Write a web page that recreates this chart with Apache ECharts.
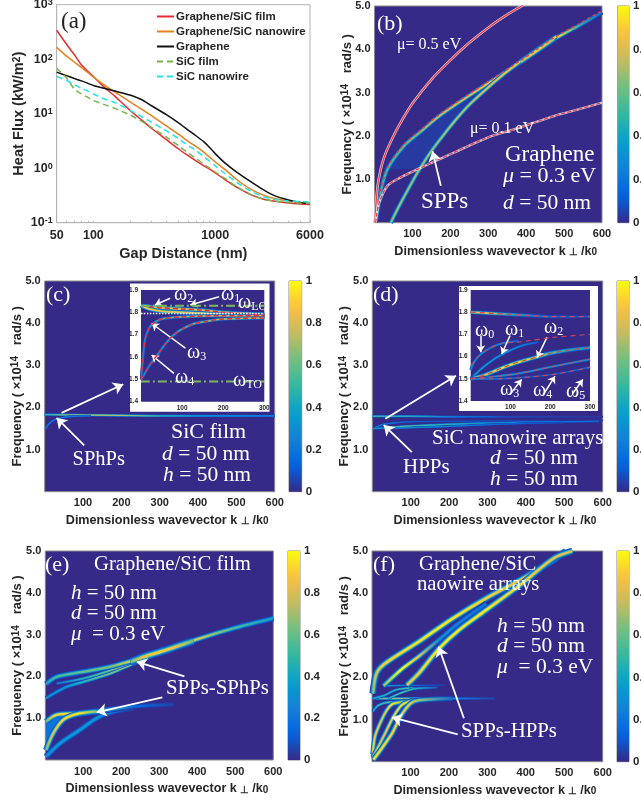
<!DOCTYPE html>
<html><head><meta charset="utf-8">
<style>html,body{margin:0;padding:0;background:#fff}#c{width:641px;height:806px;filter:blur(.4px)}</style>
<script src="https://cdn.jsdelivr.net/npm/echarts@6/dist/echarts.min.js"></script>
</head><body><div id="c"></div>
<script>
// ---------- panel (a) data ----------
const gapNm=[50,60,70,80,90,100,120,150,200,250,300,400,500,600,700,800,900,1000,1200,1500,2000,2500,3000,4000,5000,6000];
const fluxGrapheneSicFilm=[340,190,120,78,60,48,32,21,11.5,7.6,5.4,3.3,2.25,1.7,1.35,1.12,.96,.82,.62,.45,.32,.27,.25,.23,.22,.215];
const fluxGrapheneSicWire=[165,115,88,70,57,47,35,25,16.5,12,9.2,5.9,4.2,3.1,2.5,2,1.6,1.3,.95,.62,.4,.32,.28,.25,.235,.225];
const fluxGraphene=[58,50,44,40,36,33,29.5,26,22,18,14,9.5,6.8,5,3.9,3.1,2.4,1.85,1.25,.85,.55,.4,.32,.26,.235,.225];
const fluxSicFilm=[68,46,28,23,20,17.5,15,12.5,9.5,7.2,5.6,3.7,2.6,1.9,1.5,1.2,1,.85,.65,.46,.32,.27,.25,.235,.23,.225];
const fluxSicWire=[48,41,34,29,26,23,19,16,11.5,8.8,7,4.8,3.5,2.6,2.1,1.65,1.35,1.1,.8,.55,.37,.3,.27,.25,.245,.24];
const seriesNames=['Graphene/SiC film','Graphene/SiC nanowire','Graphene','SiC film','SiC nanowire'];
const gapLabels=[50,100,1000,6000];
const gapTicks=[50,60,70,80,90,100,200,300,400,500,600,700,800,900,1000,2000,3000,4000,5000,6000];
const fluxTicks=[.1,1,10,100,1000];
// ---------- panel (b) ridges ----------
const bMu05K=[1,3,10,25,50,75,100,150,200,250,300,350,392];
const bMu05F=[0,.35,.95,1.5,2,2.4,2.75,3.3,3.75,4.15,4.5,4.8,5.02];
const bMu01K=[3,6,12,34,70,113,160,210,297,385,473,540,600];
const bMu01F=[0,.2,.45,.85,1.05,1.23,1.42,1.62,1.96,2.2,2.46,2.62,2.77];
const bUpK=[3,8,16,34,78,122,165,210,297,385,430,473,540,600];
const bUpF=[0,.25,.7,1.23,1.77,2.1,2.42,2.7,3.2,3.7,3.97,4.23,4.55,4.85];
const bUpV=[.4,.45,.5,.55,.6,.65,.75,.8,.85,.9,.95,.95,.45,.15];
const bLowK=[43,60,80,100,120,148,180,210,250,297,340,385,430,480];
const bLowF=[0,.3,.63,.95,1.25,1.63,2,2.33,2.72,3.1,3.42,3.72,4,4.3];
const bLowV=[.65,.7,.7,.7,.7,.7,.7,.75,.75,.8,.85,.9,.95,.9];
const bCoreK=[385,410,430,450,473];
const bCoreF=[3.71,3.86,3.98,4.1,4.24];
const bCoreV=[.7,.85,.9,.85,.7];
// ---------- panel (c) ridges ----------
const cTopK=[0,100,200,300,400,500,600];
const cTopF=[1.83,1.82,1.81,1.8,1.8,1.8,1.8];
const cTopV=[.5,.8,.8,.5,.35,.3,.25];
const cLowK=[2,10,26,60,120];
const cLowF=[1.49,1.6,1.71,1.78,1.8];
const cLowV=[.25,.25,.25,.25,.2];
const ciW2K=[0,50,100,150,200,300];
const ciW2F=[1.83,1.82,1.815,1.81,1.8,1.79];
const ciW1K=[0,20,50,100,200,300];
const ciW1F=[1.83,1.815,1.805,1.8,1.79,1.785];
const ciTopV=[.8,.9,.85,.85,.8,.85];
const ciW3K=[1,5,10,20,30,50,100,200,300];
const ciW3F=[1.5,1.6,1.68,1.73,1.75,1.77,1.78,1.785,1.785];
const ciW3V=[.25,.25,.25,.3,.4,.5,.7,.8,.85];
const ciW4K=[1,20,40,60,80,100,130,160,200,300];
const ciW4F=[1.5,1.56,1.61,1.66,1.7,1.725,1.75,1.76,1.77,1.775];
const ciW4V=[.3,.3,.35,.35,.4,.5,.6,.7,.8,.85];
const ciLoF=[1.83,1.83],ciToF=[1.49,1.49],ciDotF=[1.795,1.795],ciSpanK=[0,300];
// ---------- panel (d) ridges ----------
const dTopK=[0,100,200,300,350,600];
const dTopF=[1.79,1.79,1.78,1.78,1.78,1.78];
const dTopV=[.55,.5,.25,.15,.08,.03];
const dAK=[2,30,100,200,350,600];
const dAF=[1.5,1.6,1.66,1.67,1.68,1.69];
const dAV=[.3,.3,.15,.1,.08,.05];
const dBK=[2,50,100,200,300,400,500,590];
const dBF=[1.5,1.53,1.56,1.6,1.63,1.65,1.66,1.67];
const dBV=[.5,.6,.6,.5,.35,.25,.2,.15];
const dCK=[2,100,200,300,400,500];
const dCF=[1.5,1.52,1.55,1.59,1.62,1.64];
const dCV=[.4,.35,.3,.2,.15,.1];
const diTopK=[0,25,50,100,150,200,300];
const diTopF=[1.8,1.798,1.795,1.79,1.785,1.78,1.78];
const diTopV=[.8,.9,.85,.5,.25,.15,.08];
const diW0K=[0,10,25,50,80,120];
const diW0F=[1.54,1.58,1.61,1.64,1.66,1.67];
const diW0V=[.3,.3,.3,.3,.25,.15];
const diW1K=[0,30,60,90,130,170];
const diW1F=[1.5,1.55,1.59,1.62,1.65,1.665];
const diW1V=[.4,.4,.35,.35,.25,.12];
const diW2K=[0,40,80,120,170,200,250,300];
const diW2F=[1.5,1.52,1.55,1.575,1.6,1.615,1.63,1.64];
const diW2V=[.6,.8,.95,.95,.75,.6,.45,.4];
const diW4K=[0,60,124,208,300];
const diW4F=[1.5,1.51,1.525,1.556,1.588];
const diW4V=[.4,.35,.35,.35,.35];
const diW5K=[0,60,124,208,300];
const diW5F=[1.5,1.5,1.505,1.52,1.552];
const diW5V=[.35,.2,.12,.1,.15];
const diDashAK=[0,10,25,50,80,120,200,300];
const diDashAF=[1.56,1.58,1.61,1.64,1.66,1.665,1.685,1.7];
// ---------- panel (e) ridges ----------
const eTopK=[2,30,100,170,249,319,407,495,600];
const eTopF=[1.82,1.99,2.11,2.23,2.43,2.63,2.91,3.15,3.39];
const eTopV=[.3,.55,.6,.65,.9,.95,.8,.55,.35];
const eMidK=[30,100,170,232,275];
const eMidF=[1.83,1.95,2.14,2.35,2.5];
const eMidV=[.2,.5,.65,.85,.9];
const eLoK=[2,56,100,170,232,275];
const eLoF=[1.48,1.75,1.87,2.07,2.31,2.47];
const eLoV=[.3,.35,.5,.65,.8,.9];
const eCoreK=[225,260,300,340,390];
const eCoreF=[2.35,2.47,2.58,2.7,2.85];
const eCoreV=[.6,.85,.9,.85,.6];
const eBandTopK=[2,30,100,135,232,337];
const eBandTopF=[.92,1.08,1.12,1.16,1.28,1.33];
const eBandTopV=[.55,.9,.95,.55,.15,.05];
const eBandMidK=[2,21,47,82,135];
const eBandMidF=[.24,.64,.96,1.1,1.16];
const eBandMidV=[.6,.8,.9,.95,.65];
const eBottomK=[2,39,91,135,170,232];
const eBottomF=[.08,.4,.72,1,1.13,1.24];
const eBottomV=[.3,.35,.35,.35,.2,.08];
// ---------- panel (f) ridges ----------
const fAK=[2,12,34,122,210,297,385,473,504];
const fAF=[1.62,2.1,2.33,2.85,3.4,3.88,4.31,4.79,5];
const fAV=[.4,.75,.9,.95,.95,.9,.85,.85,.8];
const fBK=[30,78,122,175,227,297];
const fBF=[1.8,2.2,2.5,2.9,3.3,3.75];
const fBV=[.65,1,.85,.3,.25,.2];
const fCK=[91,122,175,227,297,385,473,521];
const fCF=[1.82,2.1,2.69,3.13,3.6,4.19,4.83,5];
const fCV=[.8,.9,.95,.95,.95,.9,.85,.8];
const fL1K=[2,8,21,39,56,122,210];
const fL1F=[.18,.6,.91,1.23,1.38,1.46,1.5];
const fL1V=[.95,.9,.85,.85,.95,.4,.1];
const fL2K=[2,34,56,78,105];
const fL2F=[.1,.67,1.07,1.35,1.45];
const fL2V=[.75,.85,.9,.95,.7];
const fL3K=[4,52,74,100,122,210];
const fL3F=[.05,.67,1.07,1.38,1.46,1.5];
const fL3V=[.95,.9,.9,.85,.7,.15];
const fL0K=[2,17,43,90];
const fL0F=[1.19,1.34,1.41,1.42];
const fL0V=[.3,.5,.6,.2];
const fM1K=[2,60,150,220,320];
const fM1F=[1.5,1.5,1.5,1.5,1.5];
const fM1V=[.5,.7,.6,.25,.05];
const fM2K=[2,34,60,87,157];
const fM2F=[1.5,1.58,1.7,1.74,1.76];
const fM2V=[.4,.5,.5,.6,.1];
const fM3K=[43,75,110,170];
const fM3F=[1.5,1.63,1.73,1.76];
const fM3V=[.5,.6,.5,.1];
const fM4K=[30,80,130,190];
const fM4F=[1.8,1.81,1.81,1.82];
const fM4V=[.35,.3,.12,.03];
// ---------- ticks ----------
const wavevectorTicks=[100,200,300,400,500,600];
const freqTicks=[1,2,3,4,5];
const colorbarTicks=[0,.2,.4,.6,.8,1];

const PARULA=[[53,42,135],[3,99,225],[20,129,214],[6,160,205],[51,184,161],[113,191,128],[195,188,96],[253,191,66],[249,251,14]];
function parula(t){t=Math.max(0,Math.min(1,t))*8;const i=Math.min(7,Math.floor(t)),u=t-i,a=PARULA[i],b=PARULA[i+1];
  return 'rgb('+a.map((c,j)=>Math.round(c+(b[j]-c)*u)).join(',')+')';}
const BG=parula(0),SANS='"Liberation Sans"',SERIF='"Liberation Serif"',INK='#262626',AX='#8a8a8a';
const series=[],graphic=[];
const P={a:0,b:1,c:2,d:3,e:4,f:5,ci:6,di:7};
const zip=(k,f)=>k.map((v,i)=>[v,f[i]]);
const LEVELS=[[3.5,.1],[2.8,.22],[2.25,.42],[1.75,.68],[1.2,1]];
function ridge(p,k,f,v,w){
  const lo=k[0],span=k[k.length-1]-lo;
  LEVELS.forEach(([m,l])=>{
    series.push({type:'line',xAxisIndex:p,yAxisIndex:p,data:zip(k,f),showSymbol:false,smooth:.3,silent:true,animation:false,z:p>=6?4:2,
      lineStyle:{width:w*m,cap:'butt',join:'round',color:{type:'linear',x:0,y:0,x2:1,y2:0,colorStops:k.map((x,i)=>({offset:(x-lo)/span,color:parula(l*v[i])}))}}});
  });
}
function stroke(p,k,f,color,w,type,z){
  series.push({type:'line',xAxisIndex:p,yAxisIndex:p,data:zip(k,f),showSymbol:false,smooth:.3,silent:true,animation:false,z:z||(p>=6?5:3),
    lineStyle:{width:w,color,type:type||'solid'}});
}
function band(p,k1,f1,k2,f2,color){
  const pts=zip(k1,f1).concat(zip(k2,f2).reverse());
  series.push({type:'custom',xAxisIndex:p,yAxisIndex:p,data:[pts[0]],silent:true,animation:false,clip:true,z:2,
    renderItem:(ps,api)=>({type:'polygon',shape:{points:pts.map(q=>api.coord(q))},style:{fill:color}})});
}
function arrow(p,from,to){
  series.push({type:'line',xAxisIndex:p,yAxisIndex:p,data:[from],showSymbol:false,silent:true,animation:false,z:p>=6?6:5,
    markLine:{silent:true,animation:false,symbol:['none','arrow'],symbolSize:p>=6?7:10,label:{show:false},
      lineStyle:{color:'#fff',width:p>=6?1.5:1.8,type:'solid'},data:[[{coord:from},{coord:to}]]}});
}
function text(x,cy,t,size,fill){
  graphic.push({type:'text',z:100,silent:true,style:{x,y:cy,text:t,fill:fill||'#fff',fontFamily:SERIF,fontSize:size,verticalAlign:'middle',
    rich:{i:{fontFamily:SERIF,fontSize:size,fontStyle:'italic',fill:fill||'#fff'},n:{fontFamily:SERIF,fontSize:size,fill:fill||'#fff'},
      w:{fontFamily:SERIF,fontSize:20,fill:'#fff'},s:{fontFamily:SERIF,fontSize:12,fill:'#fff',verticalAlign:'bottom'}}}});
}
const om=s=>'{w|ω}{s|'+s+'}';

// panel (a)
const aColors=['#ea2a2e','#e6821a','#111111','#79b44a','#22e6e6'];
[fluxGrapheneSicFilm,fluxGrapheneSicWire,fluxGraphene,fluxSicFilm,fluxSicWire].forEach((v,i)=>{
  series.push({name:seriesNames[i],type:'line',xAxisIndex:0,yAxisIndex:0,data:zip(gapNm,v),showSymbol:false,symbol:'none',smooth:.2,silent:true,animation:false,
    lineStyle:{width:1.5,color:aColors[i],type:i>=3?[6,4]:'solid'},itemStyle:{color:aColors[i]}});
});
// panel (b)
band(P.b,bUpK.slice(3,10),bUpF.slice(3,10),bLowK.slice(4,12),bLowF.slice(4,12),parula(.035));
ridge(P.b,bUpK,bUpF,bUpV,1.3);
ridge(P.b,bLowK,bLowF,bLowV,1.3);
ridge(P.b,bCoreK,bCoreF,bCoreV,1.7);
stroke(P.b,bUpK,bUpF.map(v=>v+.04),'#ee3b46',1.5,[3,3]);
stroke(P.b,bMu05K,bMu05F,'rgba(255,255,255,.8)',2.6);
stroke(P.b,bMu05K,bMu05F,'#ee3b46',1.3);
stroke(P.b,bMu01K,bMu01F,'rgba(255,255,255,.7)',2.4);
stroke(P.b,bMu01K,bMu01F,'#ee3b46',1.3,[4,2]);
arrow(P.b,[175,.85],[153,1.65]);
// panel (c)
ridge(P.c,cTopK,cTopF,cTopV,.7);
ridge(P.c,cLowK,cLowF,cLowV,.6);
arrow(P.c,[44,1.87],[205,2.55]);
arrow(P.c,[103,1.1],[31,1.75]);
ridge(P.ci,ciW2K,ciW2F,ciTopV,1.2);
ridge(P.ci,ciW1K,ciW1F,ciTopV,1.2);
ridge(P.ci,ciW3K,ciW3F,ciW3V,.9);
ridge(P.ci,ciW4K,ciW4F,ciW4V,.9);
stroke(P.ci,ciW2K,ciW2F,'#ee2b3a',1.5,[5,3]);
stroke(P.ci,ciW3K,ciW3F,'#ee2b3a',1.5,[5,3]);
stroke(P.ci,ciW4K,ciW4F,'#ee2b3a',1.5,[5,3]);
stroke(P.ci,ciSpanK,ciLoF,'#7cb85a',2,[9,3,2,3]);
stroke(P.ci,ciSpanK,ciToF,'#7cb85a',2,[9,3,2,3]);
stroke(P.ci,ciSpanK,ciDotF,'#ffffff',1.5,[1.5,1.5]);
arrow(P.ci,[108,1.64],[26,1.75]);
arrow(P.ci,[80,1.527],[26,1.609]);
arrow(P.ci,[71,1.863],[34,1.833]);
arrow(P.ci,[190,1.87],[120,1.833]);
// panel (d)
ridge(P.d,dTopK,dTopF,dTopV,.7);
ridge(P.d,dAK,dAF,dAV,.5);
ridge(P.d,dBK,dBF,dBV,.7);
ridge(P.d,dCK,dCF,dCV,.5);
arrow(P.d,[34,1.73],[218,2.75]);
arrow(P.d,[103,.94],[30,1.58]);
ridge(P.di,diTopK,diTopF,diTopV,1.1);
ridge(P.di,diW0K,diW0F,diW0V,.8);
ridge(P.di,diW1K,diW1F,diW1V,.8);
ridge(P.di,diW2K,diW2F,diW2V,1.3);
ridge(P.di,diW4K,diW4F,diW4V,.8);
ridge(P.di,diW5K,diW5F,diW5V,.8);
stroke(P.di,diTopK,diTopF,'#ee3b46',1.3,[5,4]);
stroke(P.di,diDashAK,diDashAF,'#d9454f',1.1,[5,4]);
stroke(P.di,diW2K,diW2F,'#d9454f',1.1,[5,4]);
stroke(P.di,diW4K,diW4F,'#d9454f',1.1,[5,4]);
stroke(P.di,diW5K,diW5F,'#d9454f',1.1,[5,4]);
arrow(P.di,[25,1.695],[25,1.62]);
arrow(P.di,[99,1.695],[78,1.612]);
arrow(P.di,[192,1.688],[167,1.595]);
arrow(P.di,[99,1.43],[128,1.497]);
arrow(P.di,[183,1.43],[212,1.512]);
arrow(P.di,[255,1.43],[282,1.497]);
// panel (e)
band(P.e,eBandTopK.slice(0,3),eBandTopF.slice(0,3),eBandMidK.slice(0,4),eBandMidF.slice(0,4),parula(.2));
ridge(P.e,eLoK,eLoF,eLoV,1.2);
ridge(P.e,eMidK,eMidF,eMidV,1);
ridge(P.e,eTopK,eTopF,eTopV,1.6);
ridge(P.e,eCoreK,eCoreF,eCoreV,2.2);
ridge(P.e,eBottomK,eBottomF,eBottomV,1.7);
ridge(P.e,eBandTopK,eBandTopF,eBandTopV,1.7);
ridge(P.e,eBandMidK,eBandMidF,eBandMidV,1.7);
arrow(P.e,[366,2],[241,2.35]);
arrow(P.e,[308,1.5],[135,1.14]);
// panel (f)
ridge(P.f,fL0K,fL0F,fL0V,.9);
ridge(P.f,fM1K,fM1F,fM1V,.8);
ridge(P.f,fM2K,fM2F,fM2V,.8);
ridge(P.f,fM3K,fM3F,fM3V,.8);
ridge(P.f,fM4K,fM4F,fM4V,.6);
ridge(P.f,fL1K,fL1F,fL1V,1.4);
ridge(P.f,fL2K,fL2F,fL2V,1.4);
ridge(P.f,fL3K,fL3F,fL3V,1.6);
ridge(P.f,fAK,fAF,fAV,1.9);
ridge(P.f,fBK,fBF,fBV,1.6);
ridge(P.f,fCK,fCF,fCV,1.9);
arrow(P.f,[239,1.03],[173,2.73]);
arrow(P.f,[223,.65],[52,1.05]);

// colourbars
const cbStops=[];for(let i=0;i<=20;i++)cbStops.push({offset:i/20,color:parula(i/20)});

// grids
const grids=[
 {left:56.7,top:4.7,width:253.3,height:218,show:true,borderColor:'#b5b5b5',borderWidth:1,backgroundColor:'#fff'},
 {left:374.5,top:6,width:227.5,height:216.7},
 {left:44.7,top:281,width:230,height:210.7},
 {left:372.3,top:281,width:230.4,height:210.7},
 {left:45.3,top:551,width:228,height:209},
 {left:372,top:551,width:230.7,height:210.7},
 {left:141,top:290,width:123.3,height:111.7},
 {left:470.7,top:290,width:119.3,height:111},
];
grids.forEach((g,i)=>{g.outerBoundsMode='none';if(i>0){g.show=true;g.backgroundColor=BG;g.borderWidth=i>=6?0:1;g.borderColor=AX;}if(i>=6)g.z=2;});
const xAxes=[],yAxes=[];
const lab={fontFamily:SANS,fontWeight:'bold',color:INK,fontSize:11};
const nameRich={b:{fontFamily:SANS,fontWeight:'bold',fontSize:12.6,color:INK},p:{width:15},
  s:{fontFamily:SANS,fontWeight:'bold',fontSize:10,color:INK,verticalAlign:'bottom'},
  u:{fontFamily:SANS,fontWeight:'bold',fontSize:10,color:INK,verticalAlign:'top'},
  y:{fontFamily:SANS,fontWeight:'bold',fontSize:13,color:INK}};
xAxes.push({gridIndex:0,type:'log',logBase:10,min:50,max:6000,name:'Gap Distance (nm)',nameLocation:'middle',nameGap:24,
  nameTextStyle:{fontFamily:SANS,fontWeight:'bold',fontSize:14.5,color:INK},
  axisLine:{show:true,lineStyle:{color:'#b5b5b5'}},splitLine:{show:false},minorTick:{show:false},
  axisTick:{show:true,inside:true,length:2,customValues:gapTicks,lineStyle:{color:'#b5b5b5'}},
  axisLabel:{...lab,fontSize:12.5,margin:6,customValues:gapLabels,showMinLabel:true,showMaxLabel:true,hideOverlap:false,formatter:v=>String(Math.round(v))}});
yAxes.push({gridIndex:0,type:'log',logBase:10,min:.1,max:1000,name:'Heat Flux (kW/m{p|2})',nameLocation:'middle',nameGap:28,
  nameTextStyle:{fontFamily:SANS,fontWeight:'bold',fontSize:14.6,color:INK,rich:{p:{fontFamily:SANS,fontWeight:'bold',fontSize:10,color:INK,verticalAlign:'top'}}},
  axisLine:{show:true,lineStyle:{color:'#b5b5b5'}},splitLine:{show:false},axisTick:{show:false},minorTick:{show:false},
  axisLabel:{margin:4,customValues:fluxTicks,formatter:v=>'{b|10}{s|'+Math.round(Math.log10(v))+'}',
    rich:{b:{fontFamily:SANS,fontWeight:'bold',fontSize:12.5,color:INK},s:{fontFamily:SANS,fontWeight:'bold',fontSize:9,color:INK,verticalAlign:'top'}}}});
for(let i=1;i<=5;i++){
  xAxes.push({gridIndex:i,type:'value',min:0,max:600,interval:100,name:'{p|}{b|Dimensionless wavevector k }{s|⊥ }{b|/k}{s|0}',nameLocation:'middle',nameGap:22,
    nameTextStyle:{rich:nameRich},axisLine:{show:false},axisTick:{show:false},splitLine:{show:false},
    axisLabel:{...lab,margin:6,formatter:v=>wavevectorTicks.includes(v)?String(v):''}});
  yAxes.push({gridIndex:i,type:'value',min:0,max:5,interval:1,name:'{y|Frequency ( ×10}{u|14}{y|   rad/s )}',nameLocation:'middle',nameGap:21,nameMoveOverlap:false,
    nameTextStyle:{rich:nameRich},axisLine:{show:false},axisTick:{show:false},splitLine:{show:false},
    axisLabel:{...lab,margin:4,formatter:v=>freqTicks.includes(v)?v.toFixed(1):''}});
}
[6,7].forEach(i=>{
  xAxes.push({gridIndex:i,type:'value',min:0,max:300,interval:100,axisLine:{show:false},axisTick:{show:false},splitLine:{show:false},z:4,
    axisLabel:{fontFamily:SANS,fontWeight:'bold',fontSize:6.5,color:INK,margin:3,formatter:v=>v?String(v):''}});
  yAxes.push({gridIndex:i,type:'value',min:1.4,max:1.9,interval:.1,axisLine:{show:false},axisTick:{show:false},splitLine:{show:false},z:4,
    axisLabel:{fontFamily:SANS,fontWeight:'bold',fontSize:6.5,color:INK,margin:3,formatter:v=>v.toFixed(1)}});
});
[[617.7,6,11.3,216.7],[289,281,12.7,210.7],[617,281,12,210.7],[288,551,12,209],[617,551,12,210.7]].forEach(([l,t,w,h],n)=>{
  const i=grids.length;
  grids.push({left:l,top:t,width:w,height:h,show:true,borderColor:AX,borderWidth:1,outerBoundsMode:'none'});
  xAxes.push({gridIndex:i,type:'category',data:['c'],show:false});
  yAxes.push({gridIndex:i,type:'value',position:'right',min:0,max:1,interval:.2,axisLine:{show:false},axisTick:{show:false},splitLine:{show:false},
    axisLabel:{...lab,fontSize:11.5,margin:4,formatter:v=>colorbarTicks.some(t=>Math.abs(t-v)<1e-6)?(v===0?'0':v===1?'1':v.toFixed(1)):''}});
  series.push({type:'bar',xAxisIndex:i,yAxisIndex:i,data:[1],barWidth:'100%',silent:true,animation:false,
    itemStyle:{color:{type:'linear',x:0,y:1,x2:0,y2:0,colorStops:cbStops}}});
});

// inset frames
graphic.push({type:'rect',z:1,silent:true,shape:{x:130,y:283.5,width:139.5,height:128.2},style:{fill:'#fff'}});
graphic.push({type:'rect',z:1,silent:true,shape:{x:459,y:286,width:139,height:125},style:{fill:'#fff'}});
// annotations
text(61,22,'(a)',23,'#222');
text(377,24,'(b)',22);
text(397,45,'μ= 0.5 eV',16);
text(470,129,'μ= 0.1 eV',16);
text(505,155,'Graphene',23);
text(503,176,'{i|μ} = 0.3 eV',22);
text(503,203,'{i|d} = 50 nm',21.5);
text(421,202,'SPPs',23);
text(46,295,'(c)',22);
text(174,295,om(2),20);
text(221,295,om(1),20);
text(238,303,om('LO'),20);
text(187,353,om(3),20);
text(175,378,om(4),20);
text(233,381,om('TO'),20);
text(171,432,'SiC film',22);
text(162,454,'{i|d} = 50 nm',21.5);
text(163,475,'{i|h} = 50 nm',21.5);
text(72.5,460,'SPhPs',20.5);
text(373,295,'(d)',22);
text(475,331,om(0),20);
text(505,330,om(1),20);
text(544,328,om(2),20);
text(500,390,om(3),20);
text(533,391,om(4),20);
text(566,392,om(5),20);
text(432,438,'SiC nanowire arrays',21);
text(490,458,'{i|d} = 50 nm',21.5);
text(490,479,'{i|h} = 50 nm',21.5);
text(403,467,'HPPs',21);
text(45,565,'(e)',22);
text(94,565,'Graphene/SiC film',20.7);
text(71,593,'{i|h} = 50 nm',21);
text(71,613,'{i|d} = 50 nm',21);
text(71,634,'{i|μ}  = 0.3 eV',21);
text(166,689,'SPPs-SPhPs',20.8);
text(373,565,'(f)',22);
text(419,565,'Graphene/SiC',20.7);
text(417,585,'naowire arrays',20.7);
text(497,626,'{i|h} = 50 nm',21.5);
text(497,646,'{i|d} = 50 nm',21.5);
text(497,667,'{i|μ}  = 0.3 eV',21.5);
text(461,732,'SPPs-HPPs',20.8);

const chart=echarts.init(document.getElementById('c'),null,{renderer:'canvas'});
chart.setOption({animation:false,backgroundColor:'#fff',grid:grids,xAxis:xAxes,yAxis:yAxes,series,graphic:{elements:graphic},
  legend:{show:true,data:seriesNames,orient:'vertical',left:156,top:10.5,padding:0,itemWidth:17,itemHeight:12,itemGap:3,selectedMode:false,itemStyle:{opacity:0},
    textStyle:{fontFamily:SANS,fontWeight:'bold',fontSize:11.5,color:INK,padding:[0,0,0,-3]}}});
</script></body></html>
